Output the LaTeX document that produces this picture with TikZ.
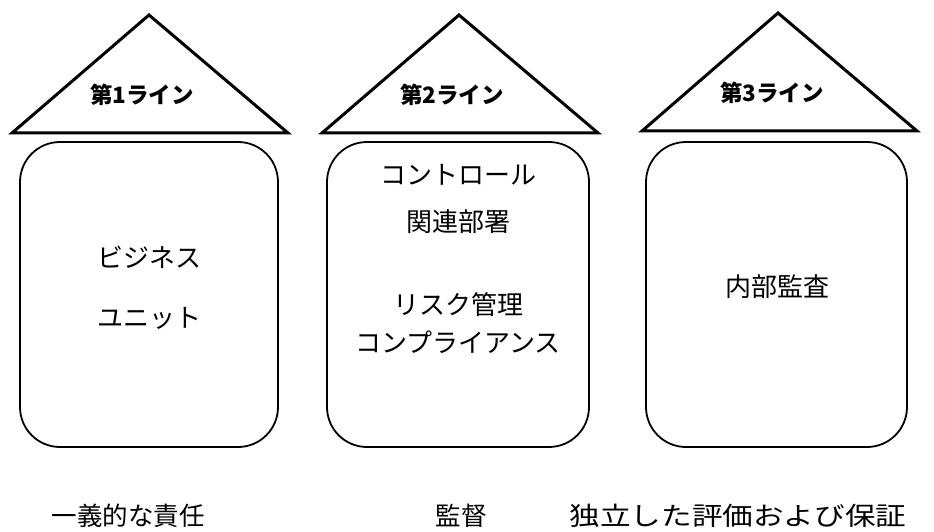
\documentclass[tikz,border=0pt]{standalone}
\usepackage{fontspec}
\newfontfamily\jp{Noto Sans CJK JP}
\begin{document}
\begin{tikzpicture}[x=1pt,y=-1pt,
  tri/.style={draw, line width=3pt, line join=miter},
  box/.style={draw, line width=1.8pt, rounded corners=40pt, minimum height=305pt, inner sep=0pt},
  ttl/.style={font=\jp\bfseries\fontsize{22.5}{24}\selectfont, inner sep=0pt},
  txt/.style={font=\jp\fontsize{26}{28}\selectfont, inner sep=0pt},
  btm/.style={font=\jp\fontsize{25.5}{28}\selectfont, inner sep=0pt}]
\useasboundingbox (0,0) rectangle (934,532);
% triangles
\draw[tri] (149,15) -- (288,133) -- (12,133) -- cycle;
\draw[tri] (459,15) -- (598,133) -- (322,133) -- cycle;
\draw[tri] (778,13) -- (917,131) -- (642,131) -- cycle;
\node[ttl] (t1) at (142,95) {第1ライン};
\node[ttl] (t2) at (452,95) {第2ライン};
\node[ttl] (t3) at (772,93) {第3ライン};
% boxes
\node[box, minimum width=258pt] (b1) at (149,294.5) {};
\node[box, minimum width=262pt] (b2) at (458,294.5) {};
\node[box, minimum width=261pt] (b3) at (776.5,294.5) {};
% box texts
\node[txt] (b1a) at (149,257) {ビジネス};
\node[txt] (b1b) at (149,318) {ユニット};
\node[txt] (b2a) at (458,175) {コントロール};
\node[txt] (b2b) at (458,222) {関連部署};
\node[txt] (b2c) at (458,305) {リスク管理};
\node[txt] (b2d) at (458,342) {コンプライアンス};
\node[txt] (b3a) at (777,287) {内部監査};
% bottom labels
\node[btm] (l1) at (128,516) {一義的な責任};
\node[btm] (l2) at (461,516) {監督};
\node[btm] (l3) at (738,516) {\scalebox{1.2}[1]{独立した評価および保証}};
\end{tikzpicture}
\end{document}
